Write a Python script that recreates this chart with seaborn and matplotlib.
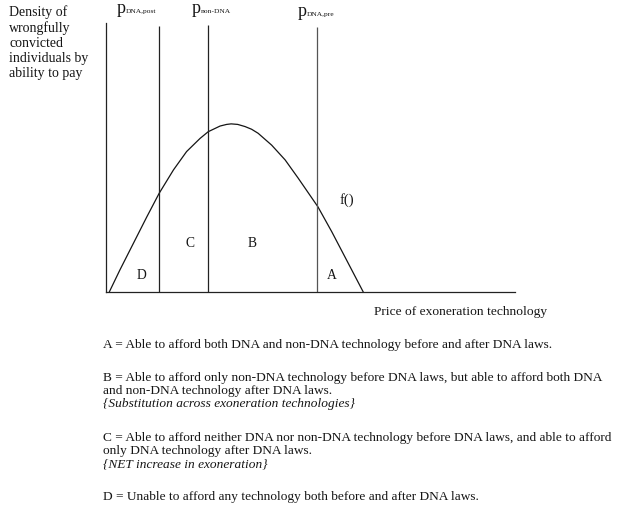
import matplotlib
matplotlib.use("Agg")
import matplotlib.pyplot as plt
import seaborn as sns
import pandas as pd

# Density of wrongfully convicted individuals over price (arbitrary units)
price = [0.08, 0.34, 0.67, 1.00, 1.30, 1.65, 1.97, 2.30, 2.50, 2.79, 2.95, 3.06,
         3.22, 3.40, 3.56, 3.72, 4.05, 4.38, 4.70, 5.18, 5.52, 5.84, 6.29]
density = [0.00, 0.82, 1.81, 2.80, 3.67, 4.54, 5.22, 5.71, 5.96, 6.17, 6.23, 6.25,
           6.23, 6.15, 6.05, 5.90, 5.46, 4.91, 4.23, 3.17, 2.24, 1.31, 0.00]

# Price thresholds and their labels
threshold_names = ["DNA,post", "non-DNA", "DNA,pre"]
threshold_price = [1.30, 2.49, 5.16]
threshold_top = [9.89, 9.93, 9.85]

# Region labels
region_names = ["D", "C", "B", "A"]
region_x = [0.88, 2.05, 3.57, 5.53]
region_y = [0.63, 1.82, 1.82, 0.63]

legend_lines = [
    "A = Able to afford both DNA and non-DNA technology before and after DNA laws.",
    "B = Able to afford only non-DNA technology before DNA laws, but able to afford both DNA",
    "and non-DNA technology after DNA laws.",
    "{Substitution across exoneration technologies}",
    "C = Able to afford neither DNA nor non-DNA technology before DNA laws, and able to afford",
    "only DNA technology after DNA laws.",
    "{NET increase in exoneration}",
    "D = Unable to afford any technology both before and after DNA laws.",
]
legend_styles = ["normal", "normal", "normal", "italic",
                 "normal", "normal", "italic", "normal"]
legend_rows = [345, 377.5, 391, 404.5, 437.5, 451, 464.5, 497]

sns.set_theme(style="white")
plt.rcParams["font.family"] = ["Liberation Serif", "DejaVu Serif"]

W, H = 620, 512
fig = plt.figure(figsize=(W / 100, H / 100), dpi=100)
fig.patch.set_facecolor("white")


def fx(px):
    return px / W


def fy(py):
    return 1 - py / H


ax = fig.add_axes([fx(106), fy(292), (515 - 106) / W, (292 - 23) / H])
ax.set_xlim(0, 10)
ax.set_ylim(0, 10)
ax.set_facecolor("white")
for side in ("top", "right"):
    ax.spines[side].set_visible(False)
for side in ("left", "bottom"):
    ax.spines[side].set_color("#222222")
    ax.spines[side].set_linewidth(0.9)
ax.set_xticks([])
ax.set_yticks([])

ink = "#151515"

df = pd.DataFrame({"price": price, "density": density})
sns.lineplot(data=df, x="price", y="density", ax=ax, color=ink, lw=0.9,
             sort=False, estimator=None)
ax.set_xlabel("")
ax.set_ylabel("")

ax.vlines(threshold_price, 0, threshold_top,
          colors=["#222222", "#222222", "#555555"], lw=0.9)

for name, x, y in zip(region_names, region_x, region_y):
    ax.text(x, y, name, ha="center", va="center", fontsize=9.8, color=ink)

ax.text(5.88, 3.42, "f()", ha="center", va="center", fontsize=10.5, color=ink)

# Threshold price labels: large p with small subscript
p_left = [117, 192, 298]
p_base = [13, 13, 16]
for name, px, pb in zip(threshold_names, p_left, p_base):
    fig.text(fx(px), fy(pb), "p", fontsize=13, ha="left", va="baseline", color=ink)
    fig.text(fx(px + 8.5), fy(pb), name, fontsize=5.4, ha="left", va="baseline",
             color=ink)

fig.text(fx(9), fy(5), "Density of\nwrongfully\nconvicted\nindividuals by\nability to pay",
         fontsize=10, ha="left", va="top", linespacing=1.2, color=ink)

fig.text(fx(374), fy(312), "Price of exoneration technology", fontsize=9.7,
         ha="left", va="center", color=ink)

for line, style, row in zip(legend_lines, legend_styles, legend_rows):
    fig.text(fx(103), fy(row), line, fontsize=9.6, style=style,
             ha="left", va="center", color=ink)

fig.savefig("out.png", dpi=100, facecolor="white")
